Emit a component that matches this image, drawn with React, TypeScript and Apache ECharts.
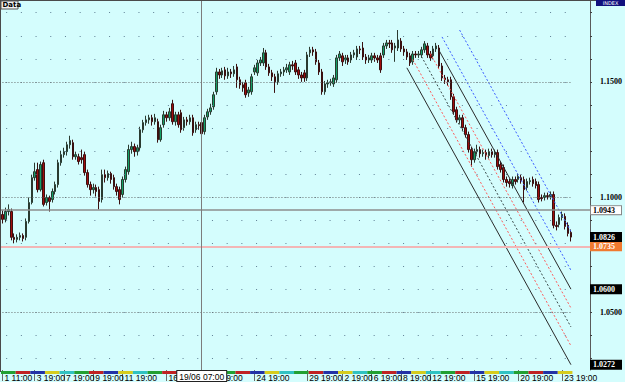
import { useEffect, useRef } from 'react';
import * as echarts from 'echarts';

// [open, close, low, high]
const candles: number[][] = [
  [1.0924, 1.0903, 1.0885, 1.0942], [1.0903, 1.0937, 1.0890, 1.0954], [1.0937, 1.0946, 1.0920, 1.0968],
  [1.0937, 1.0825, 1.0812, 1.0950], [1.0825, 1.0816, 1.0799, 1.0842], [1.0816, 1.0825, 1.0803, 1.0838],
  [1.0825, 1.0833, 1.0812, 1.0846], [1.0833, 1.0820, 1.0807, 1.0842], [1.0825, 1.0894, 1.0812, 1.0907],
  [1.0894, 1.0976, 1.0885, 1.0998], [1.0976, 1.1084, 1.0968, 1.1097], [1.1084, 1.1110, 1.1071, 1.1149],
  [1.1119, 1.1032, 1.1020, 1.1149], [1.1032, 1.1141, 1.1024, 1.1154], [1.1149, 1.0968, 1.0959, 1.1162],
  [1.0976, 1.0998, 1.0963, 1.1011], [1.0998, 1.0981, 1.0937, 1.1006], [1.0989, 1.1024, 1.0976, 1.1037],
  [1.1024, 1.1054, 1.1011, 1.1067], [1.1054, 1.1149, 1.1041, 1.1162], [1.1149, 1.1184, 1.1136, 1.1201],
  [1.1184, 1.1197, 1.1171, 1.1214], [1.1197, 1.1227, 1.1180, 1.1240], [1.1227, 1.1245, 1.1210, 1.1266],
  [1.1236, 1.1175, 1.1162, 1.1249], [1.1175, 1.1184, 1.1162, 1.1197], [1.1175, 1.1154, 1.1141, 1.1188],
  [1.1171, 1.1162, 1.1145, 1.1206], [1.1184, 1.1106, 1.1093, 1.1197], [1.1106, 1.1054, 1.1041, 1.1119],
  [1.1054, 1.1032, 1.1006, 1.1067], [1.1032, 1.1041, 1.1015, 1.1058], [1.1041, 1.1024, 1.1002, 1.1054],
  [1.1032, 1.0981, 1.0946, 1.1045], [1.0989, 1.1097, 1.0976, 1.1119], [1.1097, 1.1084, 1.1063, 1.1119],
  [1.1084, 1.1102, 1.1071, 1.1115], [1.1102, 1.1076, 1.1058, 1.1110], [1.1084, 1.1045, 1.1032, 1.1097],
  [1.1045, 1.1024, 1.1006, 1.1058], [1.1032, 1.0989, 1.0968, 1.1045], [1.1011, 1.1076, 1.0998, 1.1089],
  [1.1076, 1.1119, 1.1063, 1.1132], [1.1110, 1.1206, 1.1097, 1.1227], [1.1206, 1.1219, 1.1188, 1.1240],
  [1.1219, 1.1197, 1.1175, 1.1232], [1.1197, 1.1214, 1.1180, 1.1227], [1.1214, 1.1292, 1.1201, 1.1305],
  [1.1292, 1.1323, 1.1279, 1.1335], [1.1323, 1.1335, 1.1310, 1.1353], [1.1335, 1.1344, 1.1318, 1.1357],
  [1.1344, 1.1327, 1.1310, 1.1357], [1.1327, 1.1344, 1.1314, 1.1361], [1.1327, 1.1249, 1.1236, 1.1340],
  [1.1249, 1.1301, 1.1240, 1.1314], [1.1314, 1.1357, 1.1301, 1.1374], [1.1357, 1.1344, 1.1327, 1.1370],
  [1.1344, 1.1370, 1.1331, 1.1387], [1.1405, 1.1327, 1.1314, 1.1422], [1.1327, 1.1357, 1.1310, 1.1370],
  [1.1357, 1.1314, 1.1301, 1.1370], [1.1366, 1.1292, 1.1279, 1.1379], [1.1301, 1.1335, 1.1288, 1.1348],
  [1.1335, 1.1327, 1.1310, 1.1348], [1.1327, 1.1344, 1.1314, 1.1357], [1.1344, 1.1279, 1.1266, 1.1357],
  [1.1292, 1.1314, 1.1279, 1.1327], [1.1314, 1.1310, 1.1292, 1.1327], [1.1323, 1.1275, 1.1258, 1.1335],
  [1.1284, 1.1344, 1.1271, 1.1357], [1.1348, 1.1370, 1.1335, 1.1383], [1.1370, 1.1387, 1.1357, 1.1405],
  [1.1392, 1.1444, 1.1379, 1.1457], [1.1457, 1.1543, 1.1444, 1.1561], [1.1543, 1.1530, 1.1513, 1.1556],
  [1.1530, 1.1548, 1.1517, 1.1561], [1.1552, 1.1526, 1.1509, 1.1565], [1.1526, 1.1543, 1.1513, 1.1561],
  [1.1543, 1.1535, 1.1517, 1.1556], [1.1535, 1.1552, 1.1522, 1.1569], [1.1565, 1.1509, 1.1474, 1.1578],
  [1.1509, 1.1487, 1.1470, 1.1522], [1.1487, 1.1474, 1.1457, 1.1500], [1.1496, 1.1444, 1.1431, 1.1509],
  [1.1452, 1.1465, 1.1435, 1.1478], [1.1457, 1.1522, 1.1444, 1.1535], [1.1543, 1.1561, 1.1530, 1.1574],
  [1.1539, 1.1582, 1.1526, 1.1595], [1.1582, 1.1595, 1.1569, 1.1608], [1.1582, 1.1626, 1.1569, 1.1647],
  [1.1626, 1.1565, 1.1552, 1.1639], [1.1565, 1.1539, 1.1526, 1.1578], [1.1539, 1.1522, 1.1504, 1.1552],
  [1.1522, 1.1500, 1.1452, 1.1535], [1.1500, 1.1535, 1.1487, 1.1548], [1.1535, 1.1543, 1.1522, 1.1556],
  [1.1543, 1.1552, 1.1526, 1.1565], [1.1552, 1.1561, 1.1539, 1.1578], [1.1543, 1.1574, 1.1530, 1.1587],
  [1.1574, 1.1569, 1.1552, 1.1591], [1.1582, 1.1543, 1.1530, 1.1595], [1.1552, 1.1530, 1.1513, 1.1565],
  [1.1530, 1.1517, 1.1500, 1.1543], [1.1539, 1.1517, 1.1500, 1.1552], [1.1517, 1.1617, 1.1504, 1.1630],
  [1.1626, 1.1639, 1.1608, 1.1652], [1.1639, 1.1630, 1.1613, 1.1652], [1.1630, 1.1587, 1.1574, 1.1643],
  [1.1582, 1.1543, 1.1530, 1.1595], [1.1543, 1.1457, 1.1444, 1.1556], [1.1457, 1.1491, 1.1444, 1.1504],
  [1.1491, 1.1496, 1.1474, 1.1509], [1.1496, 1.1500, 1.1483, 1.1513], [1.1491, 1.1517, 1.1478, 1.1530],
  [1.1509, 1.1604, 1.1496, 1.1617], [1.1604, 1.1621, 1.1591, 1.1634], [1.1613, 1.1587, 1.1569, 1.1626],
  [1.1595, 1.1604, 1.1578, 1.1617], [1.1604, 1.1587, 1.1574, 1.1617], [1.1595, 1.1617, 1.1582, 1.1630],
  [1.1617, 1.1626, 1.1604, 1.1639], [1.1608, 1.1643, 1.1595, 1.1656], [1.1643, 1.1639, 1.1621, 1.1656],
  [1.1647, 1.1608, 1.1595, 1.1673], [1.1608, 1.1595, 1.1578, 1.1621], [1.1595, 1.1604, 1.1582, 1.1617],
  [1.1595, 1.1613, 1.1582, 1.1626], [1.1613, 1.1604, 1.1587, 1.1626], [1.1604, 1.1595, 1.1582, 1.1617],
  [1.1613, 1.1552, 1.1539, 1.1626], [1.1617, 1.1656, 1.1604, 1.1669], [1.1656, 1.1669, 1.1643, 1.1682],
  [1.1669, 1.1665, 1.1647, 1.1682], [1.1669, 1.1639, 1.1626, 1.1682], [1.1647, 1.1656, 1.1587, 1.1669],
  [1.1647, 1.1682, 1.1634, 1.1725], [1.1677, 1.1643, 1.1630, 1.1690], [1.1643, 1.1630, 1.1613, 1.1656],
  [1.1630, 1.1608, 1.1595, 1.1643], [1.1613, 1.1582, 1.1569, 1.1626], [1.1587, 1.1621, 1.1574, 1.1634],
  [1.1621, 1.1617, 1.1604, 1.1634], [1.1617, 1.1621, 1.1604, 1.1634], [1.1617, 1.1639, 1.1604, 1.1652],
  [1.1639, 1.1665, 1.1626, 1.1677], [1.1656, 1.1617, 1.1604, 1.1669], [1.1621, 1.1604, 1.1591, 1.1634],
  [1.1613, 1.1643, 1.1600, 1.1656], [1.1643, 1.1656, 1.1630, 1.1669], [1.1647, 1.1569, 1.1556, 1.1660],
  [1.1569, 1.1517, 1.1504, 1.1582], [1.1517, 1.1509, 1.1491, 1.1530], [1.1509, 1.1500, 1.1483, 1.1522],
  [1.1509, 1.1435, 1.1422, 1.1522], [1.1435, 1.1370, 1.1357, 1.1448], [1.1379, 1.1335, 1.1323, 1.1392],
  [1.1335, 1.1344, 1.1318, 1.1357], [1.1344, 1.1301, 1.1288, 1.1357], [1.1301, 1.1271, 1.1258, 1.1314],
  [1.1271, 1.1206, 1.1193, 1.1284], [1.1206, 1.1162, 1.1132, 1.1219], [1.1162, 1.1197, 1.1149, 1.1210],
  [1.1197, 1.1206, 1.1184, 1.1227], [1.1206, 1.1188, 1.1171, 1.1219], [1.1188, 1.1193, 1.1175, 1.1206],
  [1.1193, 1.1184, 1.1162, 1.1206], [1.1180, 1.1197, 1.1167, 1.1210], [1.1197, 1.1184, 1.1171, 1.1210],
  [1.1184, 1.1193, 1.1171, 1.1206], [1.1193, 1.1132, 1.1119, 1.1206], [1.1141, 1.1119, 1.1106, 1.1154],
  [1.1128, 1.1076, 1.1063, 1.1141], [1.1076, 1.1063, 1.1045, 1.1089], [1.1067, 1.1058, 1.1041, 1.1080],
  [1.1050, 1.1076, 1.1037, 1.1089], [1.1076, 1.1067, 1.1054, 1.1089], [1.1076, 1.1089, 1.1063, 1.1102],
  [1.1084, 1.1071, 1.1058, 1.1097], [1.1076, 1.1032, 1.0976, 1.1089], [1.1041, 1.1067, 1.1028, 1.1080],
  [1.1067, 1.1071, 1.1054, 1.1084], [1.1076, 1.1058, 1.1045, 1.1089], [1.1067, 1.1050, 1.1037, 1.1080],
  [1.1054, 1.0989, 1.0976, 1.1067], [1.0998, 1.0993, 1.0981, 1.1011], [1.0998, 1.1006, 1.0985, 1.1019],
  [1.1006, 1.1002, 1.0989, 1.1019], [1.1002, 1.1011, 1.0989, 1.1024], [1.1011, 1.0877, 1.0864, 1.1024],
  [1.0877, 1.0872, 1.0855, 1.0894], [1.0881, 1.0911, 1.0868, 1.0924], [1.0911, 1.0924, 1.0898, 1.0937],
  [1.0916, 1.0872, 1.0859, 1.0929], [1.0877, 1.0842, 1.0829, 1.0890], [1.0846, 1.0826, 1.0807, 1.0859],
];

const slotCount = 201;
const categories = Array.from({ length: slotCount }, (_, i) => String(i));

const xLabelIndex = [0, 11, 21, 31, 41, 56, 70, 86, 104, 116, 126, 136, 146, 161, 176, 191];
const xLabelText = ['1 11:00', '3 19:00', '7 19:00', '9 19:00', '11 19:00', '16 19:00', '19 19:00', '24 19:00',
  '29 19:00', '2 19:00', '6 19:00', '8 19:00', '12 19:00', '15 19:00', '20 19:00', '23 19:00'];

const yMin = 1.0249;
const yMax = 1.1851;
const tickLevels = [1.03, 1.04, 1.05, 1.06, 1.07, 1.08, 1.09, 1.10, 1.11, 1.12, 1.13, 1.14, 1.15, 1.16, 1.17, 1.18];
const labelLevels = [1.05, 1.10, 1.15];

// channel lines: start index/value, end index/value
const channelStartIdx = [138, 140, 143, 146, 149, 150, 156];
const channelStartVal = [1.1561, 1.1597, 1.1610, 1.1623, 1.1636, 1.1695, 1.1725];
const channelEndIdx = 194;
const channelEndVal = [1.0272, 1.0354, 1.0436, 1.0518, 1.0600, 1.0682, 1.0850];
const channelColor = ['#2a2a2a', '#ff5a5a', '#3a4a4a', '#ff5a5a', '#2a2a2a', '#3a5cff', '#3a5cff'];
const channelDash = ['solid', 'dotted', 'dotted', 'dotted', 'solid', 'dotted', 'dotted'];

// crosshair & markers
const crossIdx = 68;
const crossDate = '19/06 07:00';
const crossVal = 1.0943;
const lastClose = 1.0826;
const refLineVal = 1.0786;
const refLineText = '1.0735';

// session band: start index, end index, colour slot
const bandStart = [0, 5, 10, 15, 20, 25, 30, 35, 40, 45, 50, 55, 60, 65, 70, 75, 80, 85, 90, 95, 100, 105, 110, 115,
  120, 125, 130, 135, 140, 145, 150, 155, 160, 165, 170, 175, 180, 185, 190];
const bandSlot = [0, 1, 2, 3, 4, 0, 1, 2, 3, 4, 0, 1, 2, 3, 4, 0, 1, 2, 3, 4, 0, 1, 2, 3, 4, 0, 1, 2, 3, 4, 0, 1, 2,
  3, 4, 0, 1, 2, 3];
const bandColors = ['#22a032', '#c02222', '#2232a6', '#d6cc1e', '#30c2c2'];

const BG = '#d4fdfd';

function boxLabel(text: string, bg: string, fg: string, border?: string) {
  return {
    show: true,
    position: 'end',
    distance: 1,
    formatter: text,
    backgroundColor: bg,
    borderColor: border || bg,
    borderWidth: 1,
    padding: [0, 2, 0, 2],
    lineHeight: 8,
    width: 26,
    color: fg,
    fontSize: 8,
    fontWeight: 'bold',
    fontFamily: 'Liberation Serif',
    align: 'left',
  };
}

const hiddenLine = { color: 'rgba(0,0,0,0)', width: 1, type: 'solid' };

export default function App() {
  const ref = useRef<HTMLDivElement>(null);
  useEffect(() => {
    document.body.style.margin = '0';
    if (!ref.current) return;
    const chart = echarts.init(ref.current, undefined, { renderer: 'svg' });

    const labelMap = new Map<number, string>();
    xLabelIndex.forEach((idx, k) => labelMap.set(idx, xLabelText[k]));

    const markData: any[] = [];
    tickLevels.forEach((lvl) => {
      markData.push([
        { xAxis: 0, yAxis: lvl, lineStyle: { color: '#5f7f94', width: 1, type: [1, 13.7], dashOffset: 11.2 }, label: { show: false } },
        { xAxis: channelEndIdx, yAxis: lvl },
      ]);
    });
    labelLevels.forEach((lvl) => {
      markData.push([
        { xAxis: 0, yAxis: lvl, lineStyle: { color: '#6a7070', width: 1, type: [1, 2] }, label: { show: false } },
        { xAxis: channelEndIdx, yAxis: lvl },
      ]);
    });
    markData.push({ yAxis: refLineVal, lineStyle: { color: '#f2b6b6', width: 2, type: 'solid' }, label: boxLabel(refLineText, '#f07a30', '#fff') });
    markData.push({ yAxis: crossVal, lineStyle: { color: '#8c8c8c', width: 1.5, type: 'solid' }, label: boxLabel(crossVal.toFixed(4), '#ffffff', '#000', '#888') });
    markData.push({ yAxis: lastClose, lineStyle: hiddenLine, label: boxLabel(lastClose.toFixed(4), '#000', '#fff') });
    markData.push({ yAxis: channelEndVal[4], lineStyle: hiddenLine, label: boxLabel(channelEndVal[4].toFixed(4), '#000', '#fff') });
    markData.push({ yAxis: channelEndVal[0], lineStyle: hiddenLine, label: boxLabel(channelEndVal[0].toFixed(4), '#000', '#fff') });
    markData.push({
      xAxis: crossIdx,
      lineStyle: { color: '#7c7c7c', width: 1, type: 'solid' },
      label: {
        show: true, position: 'start', distance: 1, formatter: crossDate, backgroundColor: '#fff', borderColor: '#222',
        borderWidth: 1, padding: [1, 2, 0, 2], color: '#000', fontSize: 8.5, fontFamily: 'Liberation Sans',
      },
    });

    const channelSeries = channelStartIdx.map((s, k) => ({
      type: 'line',
      name: 'ch' + k,
      data: [[s, channelStartVal[k]], [channelEndIdx, channelEndVal[k]]],
      symbol: 'none',
      showSymbol: false,
      silent: true,
      z: 4,
      lineStyle: { color: channelColor[k], width: 1, type: channelDash[k] === 'solid' ? 'solid' : [2, 2] },
    }));

    const bandData = bandStart.map((s, k) => [s, Math.min(s + 4, channelEndIdx), bandSlot[k]]);

    chart.setOption({
      animation: false,
      backgroundColor: BG,
      grid: { left: 1, right: 33, top: 1, bottom: 11, show: false },
      xAxis: {
        type: 'category',
        data: categories,
        boundaryGap: true,
        axisLine: { show: false },
        axisTick: {
          show: true, alignWithLabel: true, length: 11,
          interval: (i: number) => labelMap.has(i),
          lineStyle: { color: '#6a6a6a' },
        },
        axisLabel: {
          interval: (i: number) => labelMap.has(i),
          formatter: (_v: string, i: number) => labelMap.get(i) || '',
          align: 'left', margin: 3, padding: [0, 0, 0, 2],
          fontSize: 8.5, fontFamily: 'Liberation Sans', color: '#000',
          hideOverlap: false,
        },
        splitLine: { show: false },
      },
      yAxis: {
        type: 'value', position: 'right', min: yMin, max: yMax, scale: true,
        axisLine: { show: true, lineStyle: { color: '#5a5a5a' } },
        axisTick: { show: true, inside: false, length: 2, customValues: tickLevels, lineStyle: { color: '#404040' } },
        axisLabel: {
          customValues: labelLevels, formatter: (v: number) => v.toFixed(4), margin: 10,
          fontSize: 8, fontWeight: 'bold', fontFamily: 'Liberation Serif', color: '#000',
        },
        splitLine: { show: false },
      },
      graphic: [
        { type: 'line', shape: { x1: 0, y1: 0.5, x2: 625, y2: 0.5 }, style: { stroke: '#4a4a4a', lineWidth: 1 }, silent: true },
        { type: 'line', shape: { x1: 0.5, y1: 0, x2: 0.5, y2: 372 }, style: { stroke: '#4a4a4a', lineWidth: 1 }, silent: true },
        { type: 'rect', shape: { x: 1, y: 1, width: 17, height: 8 }, style: { fill: '#f2f2f2', stroke: '#555', lineWidth: 1 }, silent: true },
        { type: 'text', x: 2.5, y: 1.5, style: { text: 'Data', font: 'bold 7px "DejaVu Sans"', fill: '#000' }, silent: true },
        { type: 'rect', shape: { x: 596, y: 0, width: 29, height: 6 }, style: { fill: '#10107e' }, silent: true },
        { type: 'text', x: 610.5, y: 0.5, style: { text: 'INDEX', font: '5px "DejaVu Sans"', fill: '#fff', textAlign: 'center' }, silent: true },
      ],
      series: [
        {
          type: 'custom',
          name: 'session',
          data: bandData,
          encode: { x: [0, 1] },
          clip: false,
          silent: true,
          z: 1,
          renderItem: (params: any, api: any) => {
            const a = api.coord([api.value(0), yMin]);
            const b = api.coord([api.value(1), yMin]);
            const w = api.size([1, 0])[0];
            const cs = params.coordSys;
            return {
              type: 'rect',
              shape: { x: a[0] - w / 2, y: cs.y + cs.height + 1, width: b[0] - a[0] + w, height: 3 },
              style: { fill: bandColors[api.value(2)] },
            };
          },
        },
        {
          type: 'candlestick',
          name: 'INDEX',
          data: candles,
          barWidth: 2,
          z: 3,
          silent: true,
          itemStyle: {
            color: '#12a065', color0: '#a00c0c',
            borderColor: '#2a3a30', borderColor0: '#3a1010', borderWidth: 1,
          },
          markLine: {
            silent: true,
            precision: 4,
            symbol: ['none', 'none'],
            animation: false,
            data: markData,
          },
        },
        ...channelSeries,
      ],
    });
    return () => chart.dispose();
  }, []);
  return <div ref={ref} style={{ width: 625, height: 382 }} />;
}
